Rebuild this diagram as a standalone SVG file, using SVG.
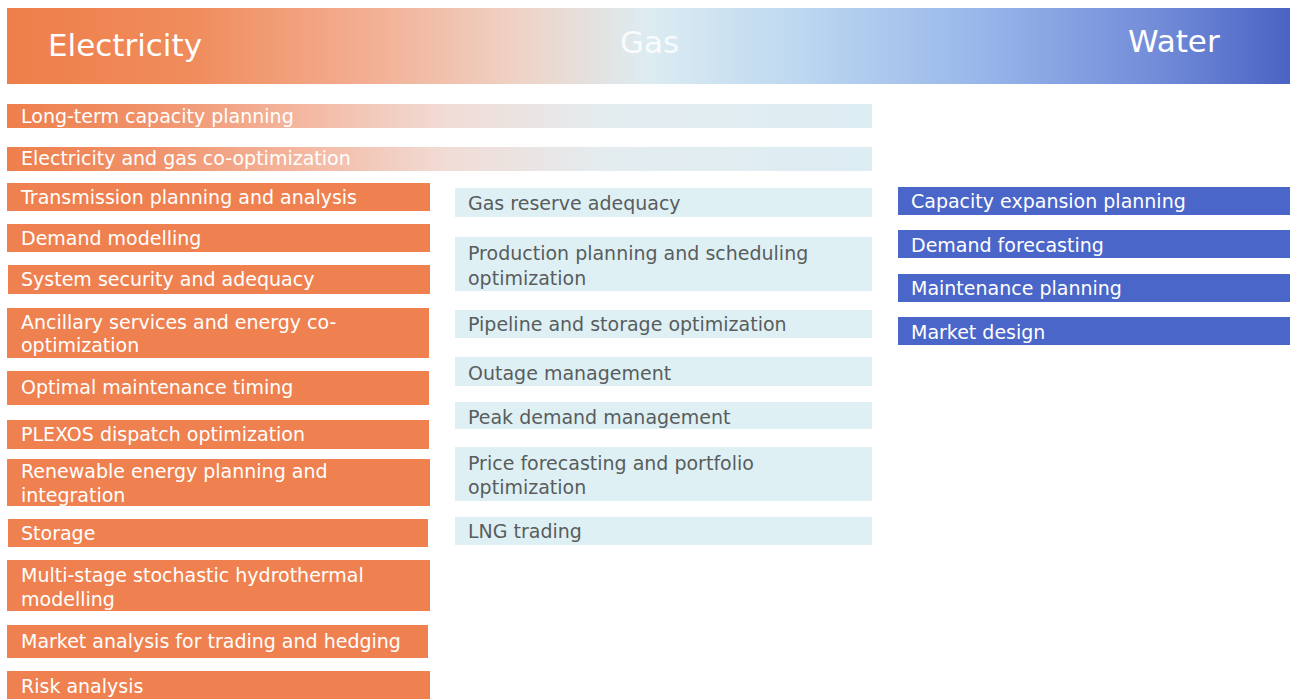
<svg xmlns="http://www.w3.org/2000/svg" width="1295" height="699" viewBox="0 0 1295 699">
  <defs>
    <linearGradient id="headGrad" x1="0" y1="0" x2="1" y2="0">
      <stop offset="0" stop-color="#ee7f4a"/>
      <stop offset="0.14" stop-color="#f08b5b"/>
      <stop offset="0.28" stop-color="#f3ae92"/>
      <stop offset="0.4" stop-color="#efd3c6"/>
      <stop offset="0.5" stop-color="#dcecf2"/>
      <stop offset="0.62" stop-color="#bcd7f0"/>
      <stop offset="0.76" stop-color="#98b6ea"/>
      <stop offset="0.9" stop-color="#718bd8"/>
      <stop offset="1" stop-color="#4b63c3"/>
    </linearGradient>
    <linearGradient id="sharedGrad" x1="0" y1="0" x2="1" y2="0">
      <stop offset="0" stop-color="#ee7f4b"/>
      <stop offset="0.165" stop-color="#f0926a"/>
      <stop offset="0.34" stop-color="#f4b7a0"/>
      <stop offset="0.51" stop-color="#f1dcd6"/>
      <stop offset="0.69" stop-color="#e4ecef"/>
      <stop offset="1" stop-color="#dcedf3"/>
    </linearGradient>
  </defs>
  <style>
    text { font-family: "DejaVu Sans", "Liberation Sans", sans-serif; }
    .head { font-size: 31px; fill: #ffffff; }
    .elec rect { fill: #ef8150; }
    .elec text { fill: #ffffff; font-size: 19px; }
    .shared text { fill: #ffffff; font-size: 19px; }
    .gas rect { fill: #dff0f5; }
    .gas text { fill: #585d5d; font-size: 19px; }
    .water rect { fill: #4a66c8; }
    .water text { fill: #ffffff; font-size: 19px; }
  </style>

  <rect width="1295" height="699" fill="#ffffff"/>

  <!-- column header band -->
  <g id="header">
    <rect x="7" y="8" width="1283" height="76" fill="url(#headGrad)"/>
    <text class="head" x="48" y="56">Electricity</text>
    <text class="head" x="620" y="53" fill-opacity="0.85">Gas</text>
    <text class="head" x="1128" y="52">Water</text>
  </g>

  <!-- rows spanning electricity and gas -->
  <g id="shared-long-term" class="shared">
    <rect x="7" y="104" width="865" height="24" fill="url(#sharedGrad)"/>
    <text x="21" y="123">Long-term capacity planning</text>
  </g>
  <g id="shared-co-opt" class="shared">
    <rect x="7" y="147" width="865" height="24" fill="url(#sharedGrad)"/>
    <text x="21" y="165">Electricity and gas co-optimization</text>
  </g>

  <!-- electricity column -->
  <g id="elec-transmission" class="elec">
    <rect x="7" y="183" width="423" height="28"/>
    <text x="21" y="204">Transmission planning and analysis</text>
  </g>
  <g id="elec-demand" class="elec">
    <rect x="7" y="224" width="423" height="28"/>
    <text x="21" y="245">Demand modelling</text>
  </g>
  <g id="elec-security" class="elec">
    <rect x="8" y="265" width="422" height="29"/>
    <text x="21" y="286">System security and adequacy</text>
  </g>
  <g id="elec-ancillary" class="elec">
    <rect x="7" y="308" width="422" height="50"/>
    <text x="21" y="329">Ancillary services and energy co-</text>
    <text x="21" y="352">optimization</text>
  </g>
  <g id="elec-maintenance" class="elec">
    <rect x="7" y="371" width="422" height="34"/>
    <text x="21" y="394">Optimal maintenance timing</text>
  </g>
  <g id="elec-plexos" class="elec">
    <rect x="7" y="420" width="422" height="29"/>
    <text x="21" y="441">PLEXOS dispatch optimization</text>
  </g>
  <g id="elec-renewable" class="elec">
    <rect x="7" y="459" width="423" height="47"/>
    <text x="21" y="478">Renewable energy planning and</text>
    <text x="21" y="502">integration</text>
  </g>
  <g id="elec-storage" class="elec">
    <rect x="8" y="519" width="420" height="28"/>
    <text x="21" y="540">Storage</text>
  </g>
  <g id="elec-hydrothermal" class="elec">
    <rect x="7" y="560" width="423" height="51"/>
    <text x="21" y="582">Multi-stage stochastic hydrothermal</text>
    <text x="21" y="606">modelling</text>
  </g>
  <g id="elec-market" class="elec">
    <rect x="7" y="625" width="421" height="33"/>
    <text x="21" y="648">Market analysis for trading and hedging</text>
  </g>
  <g id="elec-risk" class="elec">
    <rect x="7" y="671" width="423" height="30"/>
    <text x="21" y="693">Risk analysis</text>
  </g>

  <!-- gas column -->
  <g id="gas-reserve" class="gas">
    <rect x="455" y="188" width="417" height="29"/>
    <text x="468" y="210">Gas reserve adequacy</text>
  </g>
  <g id="gas-production" class="gas">
    <rect x="455" y="237" width="417" height="54"/>
    <text x="468" y="260">Production planning and scheduling</text>
    <text x="468" y="285">optimization</text>
  </g>
  <g id="gas-pipeline" class="gas">
    <rect x="455" y="310" width="417" height="28"/>
    <text x="468" y="331">Pipeline and storage optimization</text>
  </g>
  <g id="gas-outage" class="gas">
    <rect x="455" y="357" width="417" height="29"/>
    <text x="468" y="380">Outage management</text>
  </g>
  <g id="gas-peak" class="gas">
    <rect x="455" y="402" width="417" height="27"/>
    <text x="468" y="424">Peak demand management</text>
  </g>
  <g id="gas-price" class="gas">
    <rect x="455" y="447" width="417" height="54"/>
    <text x="468" y="470">Price forecasting and portfolio</text>
    <text x="468" y="494">optimization</text>
  </g>
  <g id="gas-lng" class="gas">
    <rect x="455" y="517" width="417" height="28"/>
    <text x="468" y="538">LNG trading</text>
  </g>

  <!-- water column -->
  <g id="water-capacity" class="water">
    <rect x="898" y="187" width="392" height="28"/>
    <text x="911" y="208">Capacity expansion planning</text>
  </g>
  <g id="water-demand" class="water">
    <rect x="898" y="230" width="392" height="28"/>
    <text x="911" y="252">Demand forecasting</text>
  </g>
  <g id="water-maintenance" class="water">
    <rect x="898" y="274" width="392" height="28"/>
    <text x="911" y="295">Maintenance planning</text>
  </g>
  <g id="water-market" class="water">
    <rect x="898" y="317" width="392" height="28"/>
    <text x="911" y="339">Market design</text>
  </g>
</svg>
